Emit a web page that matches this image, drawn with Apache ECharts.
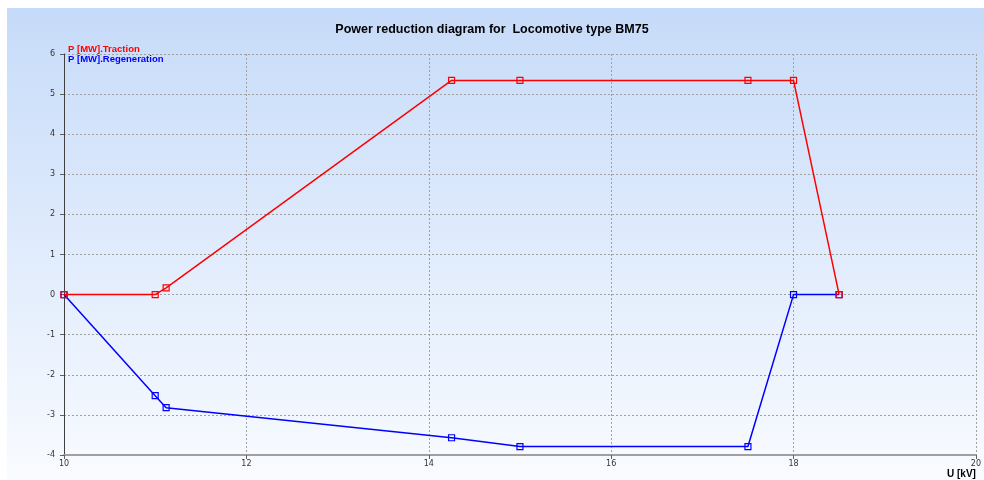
<!DOCTYPE html>
<html><head><meta charset="utf-8">
<script src="https://cdn.jsdelivr.net/npm/echarts@6/dist/echarts.min.js"></script>
<style>html,body{margin:0;padding:0;background:#fff}#c{width:984px;height:480px}</style>
</head><body><div id="c"></div>
<script>
const titleText = 'Power reduction diagram for  Locomotive type BM75';
const xName = 'U [kV]';
const tractionName = 'P [MW].Traction';
const regenName = 'P [MW].Regeneration';
const tractionU = [10, 11, 11.12, 14.25, 15, 17.5, 18, 18.5];
const tractionP = [0, 0, 0.17, 5.34, 5.34, 5.34, 5.34, 0];
const regenU = [10, 11, 11.12, 14.25, 15, 17.5, 18, 18.5];
const regenP = [0, -2.52, -2.82, -3.57, -3.79, -3.79, 0, 0];

const chart = echarts.init(document.getElementById('c'));
const font = 'DejaVu Sans, Liberation Sans, sans-serif';
const tfont = 'Liberation Sans, Arial, sans-serif';
chart.setOption({
  animation: false,
  backgroundColor: '#ffffff',
  graphic: [{
    type: 'rect', left: 7, top: 8, z: -10, silent: true,
    shape: {width: 977, height: 472},
    style: {fill: new echarts.graphic.LinearGradient(0, 0, 0, 1, [
      {offset: 0, color: '#c6dbf9'}, {offset: 1, color: '#f9fbff'}])}
  }],
  title: {
    text: titleText, left: 'center', top: 18,
    textStyle: {fontFamily: tfont, fontSize: 12.5, fontWeight: 'bold', color: '#000'}
  },
  legend: {
    orient: 'vertical', left: 68, top: 44, itemWidth: 0, itemHeight: 0, itemGap: 0,
    icon: 'none', padding: 0,
    textStyle: {fontFamily: tfont, fontSize: 9.5, fontWeight: 'bold', lineHeight: 9, padding: [0, 0, 0, -5]},
    data: [
      {name: tractionName, textStyle: {color: '#ff0000'}},
      {name: regenName, textStyle: {color: '#0000ff'}}
    ]
  },
  grid: {left: 64, right: 5, top: 54, bottom: 25},
  xAxis: {
    type: 'value', min: 10, max: 20, interval: 2,
    name: xName, nameLocation: 'end', nameGap: 0,
    nameTextStyle: {fontFamily: tfont, fontSize: 10, fontWeight: 'bold', color: '#000', align: 'right', verticalAlign: 'top', padding: [14, 0, 0, 0]},
    axisLine: {show: true, onZero: false, lineStyle: {color: '#a0a0a0', width: 2}},
    axisTick: {show: true, length: 4, lineStyle: {color: '#606060'}},
    axisLabel: {fontFamily: font, fontSize: 8, color: '#333', margin: 5},
    splitLine: {show: true, lineStyle: {color: '#a0a0a0', type: [2, 2], width: 1}}
  },
  yAxis: {
    type: 'value', min: -4, max: 6, interval: 1,
    axisLine: {show: true, onZero: false, lineStyle: {color: '#404040', width: 1}},
    axisTick: {show: true, length: 4, lineStyle: {color: '#606060'}},
    axisLabel: {fontFamily: font, fontSize: 8, color: '#333', margin: 9},
    splitLine: {show: true, lineStyle: {color: '#a0a0a0', type: [2, 2], width: 1}}
  },
  series: [
    {
      name: tractionName, type: 'line', z: 4,
      data: tractionU.map((u, i) => [u, tractionP[i]]),
      symbol: 'rect', symbolSize: 6, showAllSymbol: true,
      lineStyle: {color: '#ff0000', width: 1.5},
      itemStyle: {color: 'rgba(255,255,255,0)', borderColor: '#ff0000', borderWidth: 1.2}
    },
    {
      name: regenName, type: 'line', z: 3,
      data: regenU.map((u, i) => [u, regenP[i]]),
      symbol: 'rect', symbolSize: 6, showAllSymbol: true,
      lineStyle: {color: '#0000ff', width: 1.5},
      itemStyle: {color: 'rgba(255,255,255,0)', borderColor: '#0000ff', borderWidth: 1.2}
    }
  ]
});
</script></body></html>
